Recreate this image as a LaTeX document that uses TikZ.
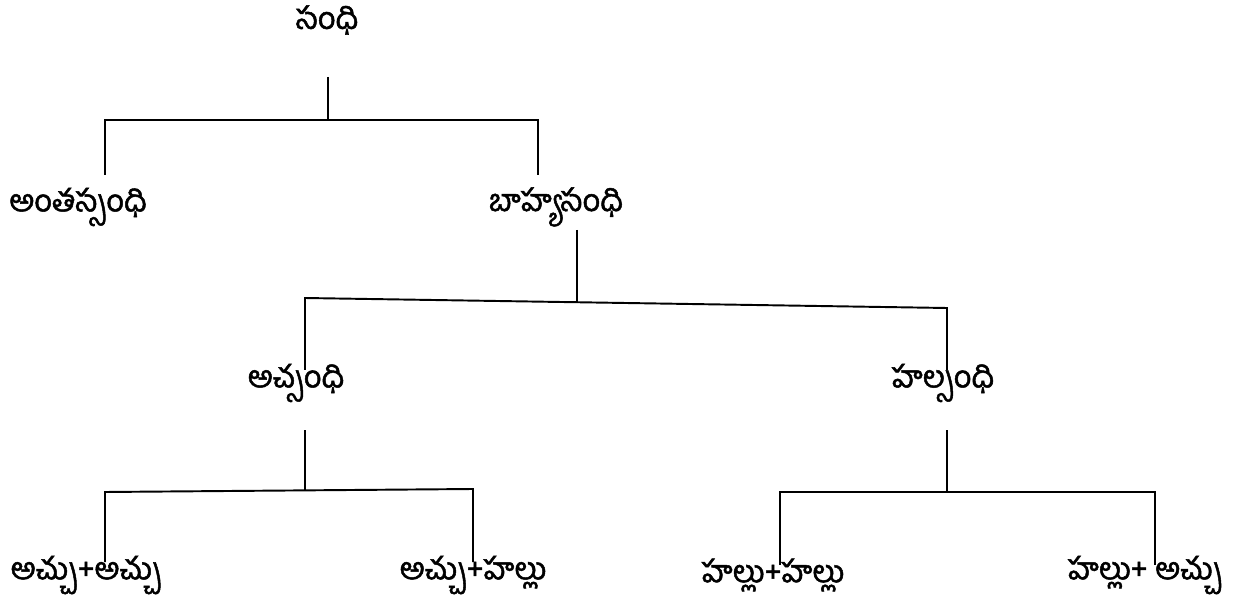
\documentclass[tikz,border=0pt]{standalone}
\usepackage{fontspec}
\newfontfamily\telugu[Script=Telugu, FakeBold=1.6]{Hind Guntur}
\usetikzlibrary{positioning}

\tikzset{
    word/.style={font=\telugu\fontsize{17.5}{20}\selectfont, inner sep=0pt},
    leg/.style={line width=1.1pt}
}

\begin{document}
\begin{tikzpicture}[x=0.02cm, y=-0.02cm]
    \useasboundingbox (0,0) rectangle (1237,604);

    % draw nodes
    \node[word] (sandhi) at (327,20) {సంధి};
    \node[word] (antah) at (78,207) {అంతస్సంధి};
    \node[word] (bahya) at (556,207) {బాహ్యసంధి};
    \node[word] (ac) at (296,383) {అచ్సంధి};
    \node[word] (hal) at (943,383) {హల్సంధి};
    \node[word] (acac) at (86,575) {అచ్చు+అచ్చు};
    \node[word] (achal) at (473,575) {అచ్చు+హల్లు};
    \node[word] (halhal) at (773,575) {హల్లు+హల్లు};
    \node[word] (halac) at (1145,575) {హల్లు+ అచ్చు};

    % junction points
    \coordinate (s1) at (328,77);   \coordinate (b1) at (328,120);
    \coordinate (l1) at (105,175);  \coordinate (r1) at (538,175);
    \coordinate (s2) at (577,230);  \coordinate (b2) at (577,302);
    \coordinate (l2t) at (305,298); \coordinate (r2t) at (947,308);
    \coordinate (l2) at (305,370);  \coordinate (r2) at (947,370);
    \coordinate (s3) at (305,430);  \coordinate (b3) at (305,491);
    \coordinate (l3t) at (105,492); \coordinate (r3t) at (473,489);
    \coordinate (l3) at (105,562);  \coordinate (r3) at (473,562);
    \coordinate (s4) at (947,430);  \coordinate (b4) at (947,492);
    \coordinate (l4) at (780,565);  \coordinate (r4) at (1155,565);

    % draw vertical lines
    \draw[leg] (s1) -- (b1);
    \draw[leg] (l1) |- (r1 |- b1) -- (r1);
    \draw[leg] (s2) -- (b2);
    \draw[leg] (l2) -- (l2t) -- (r2t) -- (r2);
    \draw[leg] (s3) -- (b3);
    \draw[leg] (l3) -- (l3t) -- (r3t) -- (r3);
    \draw[leg] (s4) -- (b4);
    \draw[leg] (l4) |- (r4 |- b4) -- (r4);
\end{tikzpicture}
\end{document}
